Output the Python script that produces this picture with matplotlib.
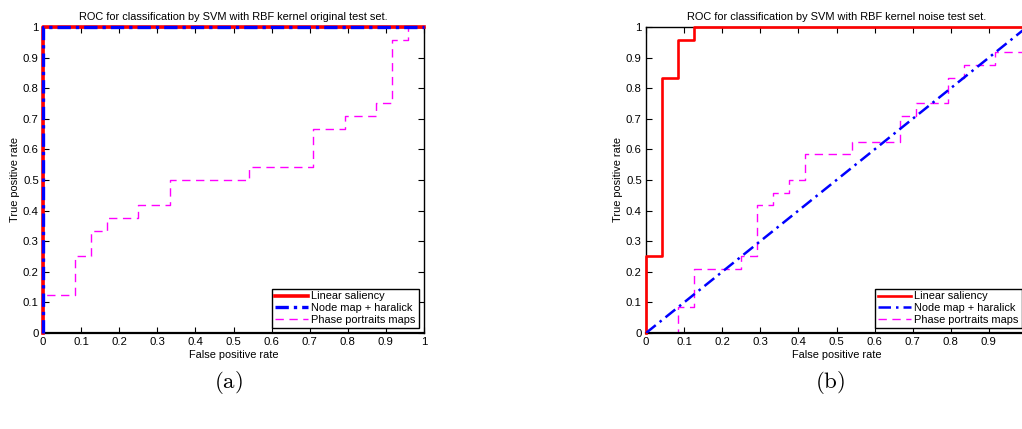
#!/usr/bin/env python3
"""ROC curves for SVM with RBF kernel: original vs noise test sets."""

import matplotlib

matplotlib.use("Agg")
import matplotlib.pyplot as plt

plt.rcParams["font.family"] = ["Liberation Sans", "DejaVu Sans"]
plt.rcParams["mathtext.fontset"] = "cm"

# (a) original test set
orig_linear_fpr = [0, 0, 1]
orig_linear_tpr = [0, 1, 1]
orig_node_fpr = [0, 0, 1]
orig_node_tpr = [0, 1, 1]
orig_phase_fpr = [0, 0, 2/24, 2/24, 3/24, 3/24, 4/24, 4/24, 6/24, 6/24, 8/24, 8/24,
                  13/24, 13/24, 17/24, 17/24, 19/24, 19/24, 21/24, 21/24, 22/24, 22/24,
                  23/24, 23/24, 1]
orig_phase_tpr = [0, 3/24, 3/24, 6/24, 6/24, 8/24, 8/24, 9/24, 9/24, 10/24, 10/24, 12/24,
                  12/24, 13/24, 13/24, 16/24, 16/24, 17/24, 17/24, 18/24, 18/24, 23/24,
                  23/24, 1, 1]

# (b) noise test set
noise_linear_fpr = [0, 0, 1/24, 1/24, 2/24, 2/24, 3/24, 3/24, 1]
noise_linear_tpr = [0, 6/24, 6/24, 20/24, 20/24, 23/24, 23/24, 1, 1]
noise_node_fpr = [0, 1]
noise_node_tpr = [0, 1]
noise_phase_fpr = [0, 2/24, 2/24, 3/24, 3/24, 6/24, 6/24, 7/24, 7/24, 8/24, 8/24, 9/24,
                   9/24, 10/24, 10/24, 13/24, 13/24, 16/24, 16/24, 17/24, 17/24, 19/24,
                   19/24, 20/24, 20/24, 22/24, 22/24, 1, 1]
noise_phase_tpr = [0, 0, 2/24, 2/24, 5/24, 5/24, 6/24, 6/24, 10/24, 10/24, 11/24, 11/24,
                   12/24, 12/24, 14/24, 14/24, 15/24, 15/24, 17/24, 17/24, 18/24, 18/24,
                   20/24, 20/24, 21/24, 21/24, 22/24, 22/24, 1]

ticks = [i / 10 for i in range(11)]
tick_labels = ["0"] + [f"{t:.1f}" for t in ticks[1:-1]] + ["1"]


def style_axes(ax, title, right_ticks=True, xticks=ticks):
    ax.set_xlim(0, 1)
    ax.set_ylim(0, 1)
    ax.set_xticks(xticks)
    ax.set_yticks(ticks)
    ax.set_xticklabels(tick_labels[:len(xticks)])
    ax.set_yticklabels(tick_labels)
    ax.tick_params(direction="in", length=4, width=0.8, labelsize=8.2,
                   top=True, right=right_ticks, pad=3)
    for sp in ax.spines.values():
        sp.set_linewidth(1.0)
    ax.spines["bottom"].set_linewidth(1.6)
    ax.set_title(title, fontsize=7.9, pad=5)
    ax.set_xlabel("False positive rate", fontsize=7.9, labelpad=2)
    ax.set_ylabel("True positive rate", fontsize=7.9, labelpad=2)
    leg = ax.legend(loc="lower right", fontsize=7.9, fancybox=False, framealpha=1,
                    edgecolor="black", handlelength=3.0, handletextpad=0.3,
                    borderpad=0.25, labelspacing=0.15, borderaxespad=0.5)
    leg.get_frame().set_linewidth(1.0)


fig = plt.figure(figsize=(10.22, 4.29), dpi=100)
ax1 = fig.add_axes([0.0421, 0.2238, 0.3728, 0.7133])
ax2 = fig.add_axes([0.6321, 0.2238, 0.3728, 0.7133])

ax1.plot(orig_linear_fpr, orig_linear_tpr, color="red", lw=2.6, label="Linear saliency",
         clip_on=False, zorder=3)
ax1.plot(orig_node_fpr, orig_node_tpr, color="blue", lw=2.4, ls=(0, (4, 1.5, 1, 1.5)),
         label="Node map + haralick", clip_on=False, zorder=4)
ax1.plot(orig_phase_fpr, orig_phase_tpr, color="magenta", lw=1.0, ls=(0, (6, 4)),
         label="Phase portraits maps", zorder=2)
style_axes(ax1, "ROC for classification by SVM with RBF kernel original test set.")

ax2.plot(noise_linear_fpr, noise_linear_tpr, color="red", lw=1.9, label="Linear saliency",
         clip_on=False, zorder=3)
ax2.plot(noise_node_fpr, noise_node_tpr, color="blue", lw=1.8, ls=(0, (5, 2, 1, 2)),
         label="Node map + haralick", zorder=4)
ax2.plot(noise_phase_fpr, noise_phase_tpr, color="magenta", lw=1.0, ls=(0, (6, 4)),
         label="Phase portraits maps", zorder=2)
# the right edge of panel (b) falls outside the page, so its last tick is not shown
style_axes(ax2, "ROC for classification by SVM with RBF kernel noise test set.",
           right_ticks=False, xticks=ticks[:-1])

fig.text(0.2231, 0.109, r"$\mathrm{(a)}$", ha="center", va="center", fontsize=16.5)
fig.text(0.8121, 0.109, r"$\mathrm{(b)}$", ha="center", va="center", fontsize=16.5)

fig.savefig("out.png", dpi=100)
